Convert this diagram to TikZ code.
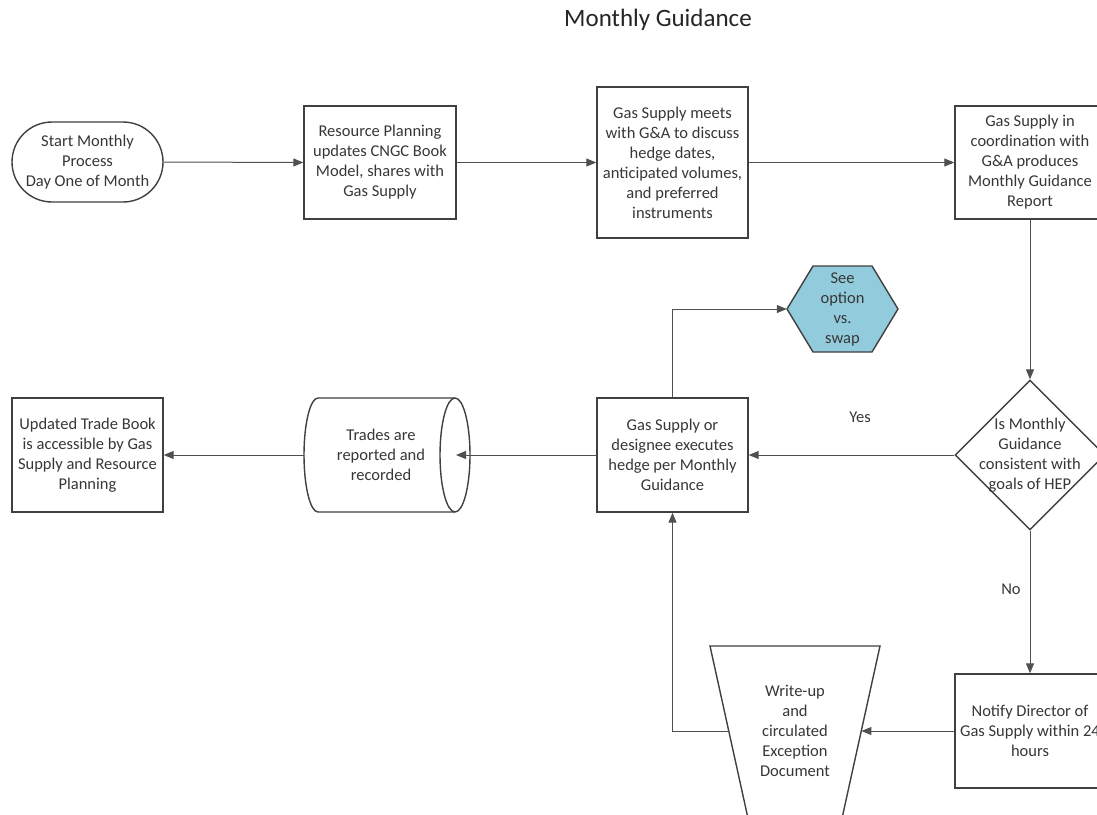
\documentclass[tikz,border=0pt]{standalone}
\usepackage{fontspec}
\setmainfont{Carlito}
\usetikzlibrary{arrows.meta,shapes.geometric}
\definecolor{shapecol}{RGB}{64,64,64}
\definecolor{conncol}{RGB}{80,80,80}
\definecolor{txtcol}{RGB}{55,55,55}
\definecolor{hexfill}{RGB}{146,203,219}
\tikzset{
  body/.style={font=\fontsize{16.5}{20}\selectfont, text=txtcol, align=center, inner sep=0pt},
  box/.style={body, draw=shapecol, line width=1.4pt, minimum width=151pt, minimum height=114pt},
  outline/.style={draw=shapecol, line width=1.4pt},
  conn/.style={draw=conncol, line width=1pt, -{Triangle[length=10pt,width=8pt]}},
  lbl/.style={font=\fontsize{16.5}{20}\selectfont, text=txtcol, inner sep=0pt},
}
\begin{document}
\begin{tikzpicture}[x=1pt,y=-1pt]
\useasboundingbox (0,0) rectangle (1097,814);
\clip (0,0) rectangle (1097,814);
\fill[white] (0,0) rectangle (1097,814);

% title
\node[font=\fontsize{25}{30}\selectfont, text=black!85, inner sep=0pt] (title) at (658,20) {Monthly Guidance};

% top row
\node[box, rounded corners=40pt, minimum height=80pt] (start) at (87.5,162) {Start Monthly\\Process\\Day One of Month};
\node[box, minimum width=152pt, minimum height=113pt] (res) at (380,162.5) {Resource Planning\\updates CNGC Book\\Model, shares with\\Gas Supply};
\node[box, minimum height=151pt] (meets) at (672.5,162.5) {Gas Supply meets\\with G\&A to discuss\\hedge dates,\\anticipated volumes,\\and preferred\\instruments};
\node[box, minimum width=150pt, minimum height=113pt] (coord) at (1030,162.5) {Gas Supply in\\coordination with\\G\&A produces\\Monthly Guidance\\Report};

% decision
\node[diamond, outline, minimum width=150pt, minimum height=150pt, inner sep=0pt] (dec) at (1030,455) {};
\node[body] (dectxt) at (dec.center) {Is Monthly\\Guidance\\consistent with\\goals of HEP};

% hexagon
\fill[hexfill] (787,309) -- (813,266) -- (872,266) -- (898,309) -- (872,352) -- (813,352) -- cycle;
\draw[outline, line join=round] (787,309) -- (813,266) -- (872,266) -- (898,309) -- (872,352) -- (813,352) -- cycle;
\node[body, minimum width=111pt, minimum height=86pt] (hex) at (842.5,309) {See\\option\\vs.\\swap};

% middle row
\node[box] (design) at (672.5,455) {Gas Supply or\\designee executes\\hedge per Monthly\\Guidance};

\draw[outline] (318,398) -- (455,398) arc[start angle=-90, end angle=90, x radius=15, y radius=57]
  -- (318,512) arc[start angle=90, end angle=270, x radius=14, y radius=57] -- cycle;
\draw[outline] (455,398) arc[start angle=270, end angle=90, x radius=15, y radius=57];
\node[body, minimum width=154pt, minimum height=114pt] (trades) at (381,455) {Trades are\\reported and\\recorded};
\coordinate (tradesin) at (456,455);

\node[box] (upd) at (87.5,455) {Updated Trade Book\\is accessible by Gas\\Supply and Resource\\Planning};

% bottom row
\node[box, minimum width=150pt] (notify) at (1030,731) {Notify Director of\\Gas Supply within 24\\hours};
\draw[outline] (710,646) -- (880,646) -- (842.5,816) -- (747.5,816) -- cycle;
\node[body, minimum width=132.5pt, minimum height=60pt] (wu) at (795,731) {Write-up\\and\\circulated\\Exception\\Document};

% labels
\node[lbl] (yes) at (860,417) {Yes};
\node[lbl] (no) at (1011,589) {No};

% connectors
\draw[conn] (start.east) -- (res.west);
\draw[conn] (res.east) -- (meets.west);
\draw[conn] (meets.east) -- (coord.west);
\draw[conn] (coord.south) -- (dec.north);
\draw[conn] (dec.west) -- (design.east);
\draw[conn] (design.north) |- (hex.west);
\draw[conn] (design.west) -- (tradesin);
\draw[conn] (trades.west) -- (upd.east);
\draw[conn] (dec.south) -- (notify.north);
\draw[conn] (notify.west) -- (wu.east);
\draw[conn] (wu.west) -| (design.south);
\end{tikzpicture}
\end{document}
